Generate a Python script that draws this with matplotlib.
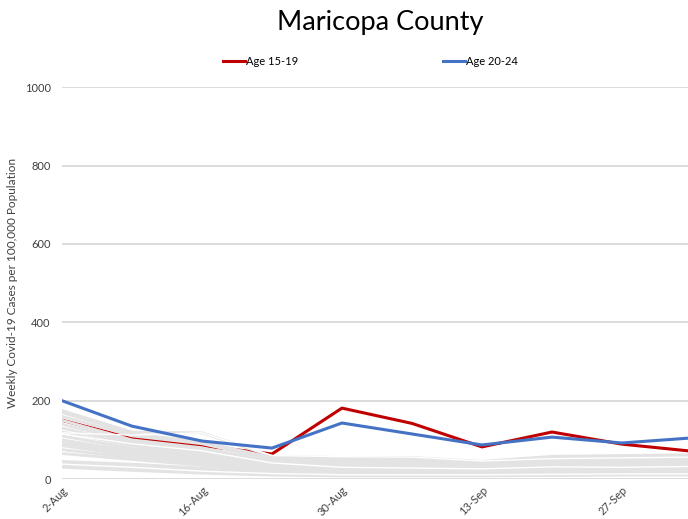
import matplotlib
matplotlib.use('Agg')
import matplotlib.pyplot as plt
import numpy as np

plt.rcParams['font.family'] = ['Lato', 'DejaVu Sans']

dates = ['2-Aug', '9-Aug', '16-Aug', '23-Aug', '30-Aug', '6-Sep', '13-Sep', '20-Sep', '27-Sep', '4-Oct']
age_15_19 = [150, 104, 85, 64, 181, 142, 82, 120, 89, 71]
age_20_24 = [200, 135, 97, 79, 143, 115, 87, 107, 92, 105]

# other groups, drawn as a grey background band
other_groups = [
    [175, 120, 118, 58, 55, 55, 45, 58, 60, 62],
    [170, 115, 95, 55, 50, 52, 44, 55, 58, 60],
    [160, 110, 90, 50, 48, 50, 42, 52, 55, 58],
    [150, 100, 80, 45, 45, 46, 40, 50, 52, 55],
    [140, 95, 75, 42, 40, 42, 38, 46, 48, 50],
    [130, 90, 70, 40, 38, 40, 35, 42, 45, 47],
    [120, 85, 65, 38, 35, 36, 32, 40, 42, 44],
    [110, 78, 60, 35, 32, 33, 30, 36, 38, 40],
    [100, 72, 55, 32, 30, 30, 28, 33, 35, 36],
    [95, 68, 50, 30, 27, 28, 25, 30, 32, 33],
    [90, 65, 48, 28, 25, 25, 22, 27, 28, 30],
    [85, 60, 45, 26, 22, 23, 20, 24, 25, 27],
    [75, 55, 40, 24, 20, 20, 18, 22, 22, 24],
    [65, 50, 35, 22, 18, 18, 16, 19, 20, 21],
    [45, 38, 28, 18, 15, 15, 14, 16, 17, 18],
    [40, 32, 22, 15, 12, 12, 12, 13, 14, 15],
    [35, 28, 18, 12, 10, 10, 10, 11, 12, 12],
    [30, 22, 15, 10, 8, 8, 8, 9, 10, 10],
]
white_groups = [
    [118, 112, 118, 60, 57, 56, 46, 52, 54, 56],
    [115, 90, 72, 41, 30, 28, 26, 31, 30, 32],
    [38, 30, 20, 14, 11, 11, 11, 12, 13, 13],
]

x = np.arange(len(dates))

fig = plt.figure(figsize=(6.88, 5.19), dpi=100)
ax = fig.add_axes([0.090, 0.077, 0.910, 0.755])

ax.plot(x, age_15_19, color='#c00000', lw=2.2, zorder=2, label='Age 15-19')
for s in other_groups:
    ax.plot(x, s, color='#e3e3e3', lw=2, zorder=3)
for s in white_groups:
    ax.plot(x, s, color='white', lw=1, zorder=3)
ax.plot(x, age_20_24, color='#4472c4', lw=2.2, zorder=4, label='Age 20-24')

ax.set_xlim(0, 626 / 70)
ax.set_ylim(0, 1000)
ax.set_yticks(range(0, 1001, 200))
ax.set_xticks(x[::2])
ax.set_xticklabels(dates[::2], rotation=45, ha='right', rotation_mode='anchor')
ax.grid(axis='y', color='#d9d9d9', lw=1.3)
ax.set_axisbelow(True)
for sp in ax.spines.values():
    sp.set_visible(False)
ax.tick_params(length=0, labelsize=8, colors='#404040', pad=8)
ax.tick_params(axis='x', pad=4)
ax.set_ylabel('Weekly Covid-19 Cases per 100,000 Population', fontsize=8.5, color='#404040')
ax.yaxis.set_label_coords(-0.07, 0.5)

fig.suptitle('Maricopa County', x=0.553, y=0.98, fontsize=19.5, color='black')
fig.legend(loc='center', bbox_to_anchor=(0.538, 0.881), ncol=2, frameon=False,
           fontsize=8, handlelength=2.0, handletextpad=0.1, columnspacing=13)

fig.savefig('out.png', dpi=100)
